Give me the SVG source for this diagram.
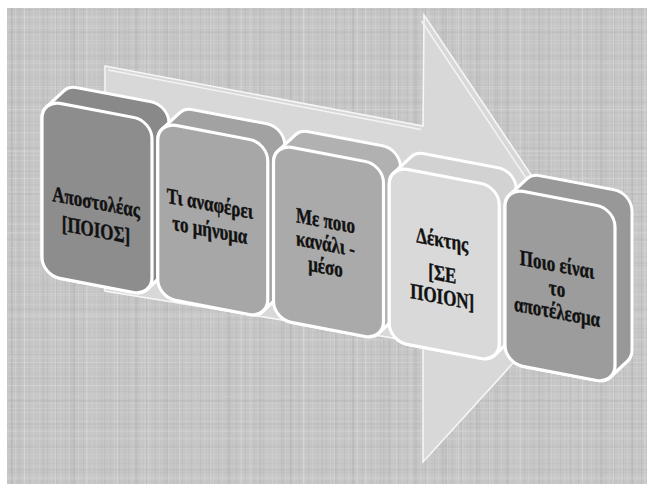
<svg xmlns="http://www.w3.org/2000/svg" xmlns:xlink="http://www.w3.org/1999/xlink" width="647" height="484" viewBox="0 0 647 484">
<defs>
<style>
.side{stroke:#ffffff;stroke-width:3;stroke-linejoin:round}
.face{stroke:#ffffff;stroke-width:3.2}
.lbl{font-family:"Liberation Serif","Times New Roman",serif;font-weight:bold;font-size:22px;fill:#111111;stroke:#111111;stroke-width:0.45;text-anchor:middle}
.edge{fill:none;stroke:#f4f4f4;stroke-width:1.4}
</style>
<pattern id="texA" width="9" height="9" patternUnits="userSpaceOnUse">
<rect width="9" height="9" fill="#c6c6c6"/>
<rect x="2" width="1" height="9" fill="#b4b4b4" opacity="0.45"/>
<rect x="6" width="1" height="9" fill="#d4d4d4" opacity="0.45"/>
<rect y="4" width="9" height="1" fill="#bababa" opacity="0.35"/>
<rect y="7" width="9" height="1" fill="#d2d2d2" opacity="0.35"/>
</pattern>
<pattern id="texB" width="31" height="23" patternUnits="userSpaceOnUse">
<rect x="11" width="2" height="23" fill="#a8a8a8" opacity="0.28"/>
<rect x="24" width="1" height="23" fill="#e0e0e0" opacity="0.4"/>
<rect y="9" width="31" height="2" fill="#aaaaaa" opacity="0.18"/>
<rect y="17" width="31" height="1" fill="#dedede" opacity="0.3"/>
</pattern>
<pattern id="texC" width="53" height="41" patternUnits="userSpaceOnUse">
<rect x="17" width="3" height="41" fill="#b0b0b0" opacity="0.22"/>
<rect x="38" width="2" height="41" fill="#d8d8d8" opacity="0.3"/>
<rect y="27" width="53" height="2" fill="#d6d6d6" opacity="0.25"/>
</pattern>
<path id="hull" d="M4.59,5.99 L21.59,-13.01 A18,18 0 0 1 35,-19 L109,-19 A18,18 0 0 1 127,-1 L127,138 A18,18 0 0 1 122.41,150 L105.41,169 A18,18 0 0 1 92,175 L18,175 A18,18 0 0 1 0,157 L0,18 A18,18 0 0 1 4.59,5.99 Z"/>
<rect id="face" width="110" height="175" rx="18" ry="18"/>
</defs>

<rect width="647" height="484" fill="#ffffff"/>
<rect x="7" y="8" width="640" height="476" fill="url(#texA)"/>
<rect x="7" y="8" width="640" height="476" fill="url(#texB)"/>
<rect x="7" y="8" width="640" height="476" fill="url(#texC)"/>

<g id="connectors">
<g id="flow-arrow">
<polygon points="105,66 423,126 424,15 596,272 423,462 423,343 105,291" fill="#d8d8d8" stroke="#f6f6f6" stroke-width="1.6" stroke-linejoin="miter"/>
<path class="edge" d="M108,70 L421,129.5"/>
<path class="edge" d="M421.5,21 L536,193"/>
</g>
</g>

<g id="box1" transform="matrix(1,0.19,0,1,42,100)">
<use xlink:href="#hull" class="side" fill="#898989"/>
<use xlink:href="#face" class="face" fill="#8d8d8d"/>
<g transform="translate(54,0) scale(0.77,1)">
<text class="lbl" y="99">Αποστολέας</text>
<text class="lbl" y="127">[ΠΟΙΟΣ]</text>
</g>
</g>

<g id="box2" transform="matrix(1,0.19,0,1,157.75,122)">
<use xlink:href="#hull" class="side" fill="#a2a2a2"/>
<use xlink:href="#face" class="face" fill="#a7a7a7"/>
<g transform="translate(52,0) scale(0.77,1)">
<text class="lbl" y="79">Τι αναφέρει</text>
<text class="lbl" y="105">το μήνυμα</text>
</g>
</g>

<g id="box3" transform="matrix(1,0.19,0,1,273.5,144)">
<use xlink:href="#hull" class="side" fill="#b1b1b1"/>
<use xlink:href="#face" class="face" fill="#aaaaaa"/>
<g transform="translate(52,0) scale(0.77,1)">
<text class="lbl" y="74">Με ποιο</text>
<text class="lbl" y="97">κανάλι -</text>
<text class="lbl" y="120">μέσο</text>
</g>
</g>

<g id="box4" transform="matrix(1,0.19,0,1,389.25,166)">
<use xlink:href="#hull" class="side" fill="#d2d2d2"/>
<use xlink:href="#face" class="face" fill="#d9d9d9"/>
<g transform="translate(53,0) scale(0.77,1)">
<text class="lbl" y="71">Δέκτης</text>
<text class="lbl" y="105">[ΣΕ</text>
<text class="lbl" y="128">ΠΟΙΟΝ]</text>
</g>
</g>

<g id="box5" transform="matrix(1,0.19,0,1,505,188)">
<use xlink:href="#hull" class="side" fill="#989898"/>
<use xlink:href="#face" class="face" fill="#9c9c9c"/>
<g transform="translate(52,0) scale(0.77,1)">
<text class="lbl" y="74">Ποιο είναι</text>
<text class="lbl" y="98">το</text>
<text class="lbl" y="121">αποτέλεσμα</text>
</g>
</g>
</svg>
